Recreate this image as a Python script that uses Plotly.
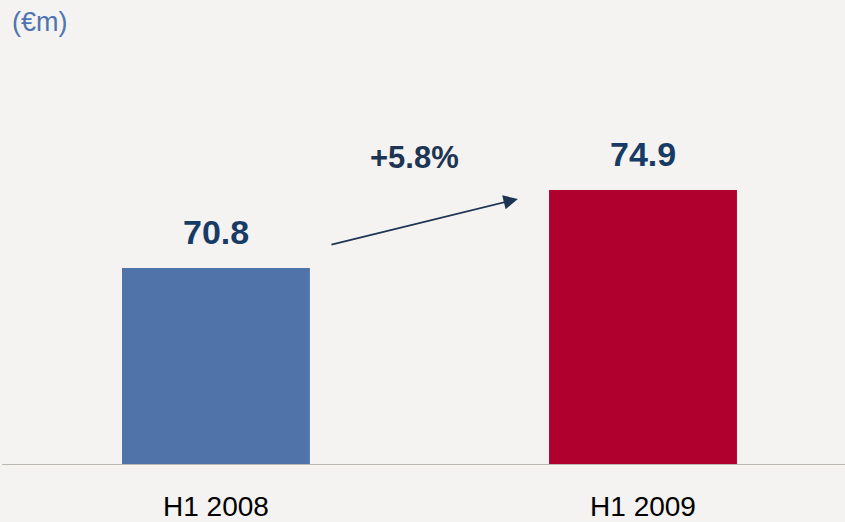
import plotly.graph_objects as go

categories = ["H1 2008", "H1 2009"]
values = [70.8, 74.9]
value_labels = ["70.8", "74.9"]
bar_colors = ["#5073AA", "#B0002E"]
growth_label = "+5.8%"
unit_label = "(€m)"

y_min = 60.45
y_max = 84.88

fig = go.Figure()
fig.add_trace(go.Bar(
    x=[0, 1],
    y=values,
    marker=dict(color=bar_colors, line=dict(width=0)),
    width=0.44,
    hoverinfo="skip",
))

for i, (v, lab) in enumerate(zip(values, value_labels)):
    fig.add_annotation(x=i, y=v, text="<b>%s</b>" % lab, showarrow=False,
                       yanchor="bottom", yshift=15,
                       font=dict(family="Liberation Sans, Arial", size=34, color="#183B66"))

# growth arrow
fig.add_annotation(x=0.707, y=74.43, ax=0.267, ay=72.01, xref="x", yref="y",
                   axref="x", ayref="y", text="", showarrow=True,
                   arrowhead=2, arrowsize=1.6, arrowwidth=1.8, arrowcolor="#1D3553")
fig.add_annotation(x=0.464, y=76.58, xref="x", yref="y", text="<b>%s</b>" % growth_label,
                   showarrow=False, yanchor="middle",
                   font=dict(family="Liberation Sans, Arial", size=31, color="#1D3553"))

fig.add_annotation(x=0, y=1, xref="paper", yref="paper", xanchor="left", yanchor="top",
                   xshift=8, yshift=-5, text=unit_label, showarrow=False,
                   font=dict(family="Liberation Sans, Arial", size=27, color="#4F75B0"))

# baseline
fig.add_shape(type="line", xref="paper", yref="y", x0=0, x1=1, y0=y_min, y1=y_min,
              line=dict(color="#BAB8B1", width=2))

fig.update_layout(
    width=845, height=522,
    margin=dict(l=2, r=0, t=0, b=57),
    paper_bgcolor="#F4F3F1",
    plot_bgcolor="rgba(0,0,0,0)",
    showlegend=False,
    xaxis=dict(range=[-0.501, 1.473], tickvals=[0, 1], ticktext=categories,
               showgrid=False, zeroline=False, showline=False,
               tickfont=dict(family="Liberation Sans, Arial", size=28, color="#000000"),
               ticklabelstandoff=22),
    yaxis=dict(range=[y_min, y_max], visible=False, showgrid=False, zeroline=False),
)

fig.write_html("out.html", config={"displayModeBar": False},
               post_script="document.body.style.margin='0';document.body.style.overflow='hidden';")
